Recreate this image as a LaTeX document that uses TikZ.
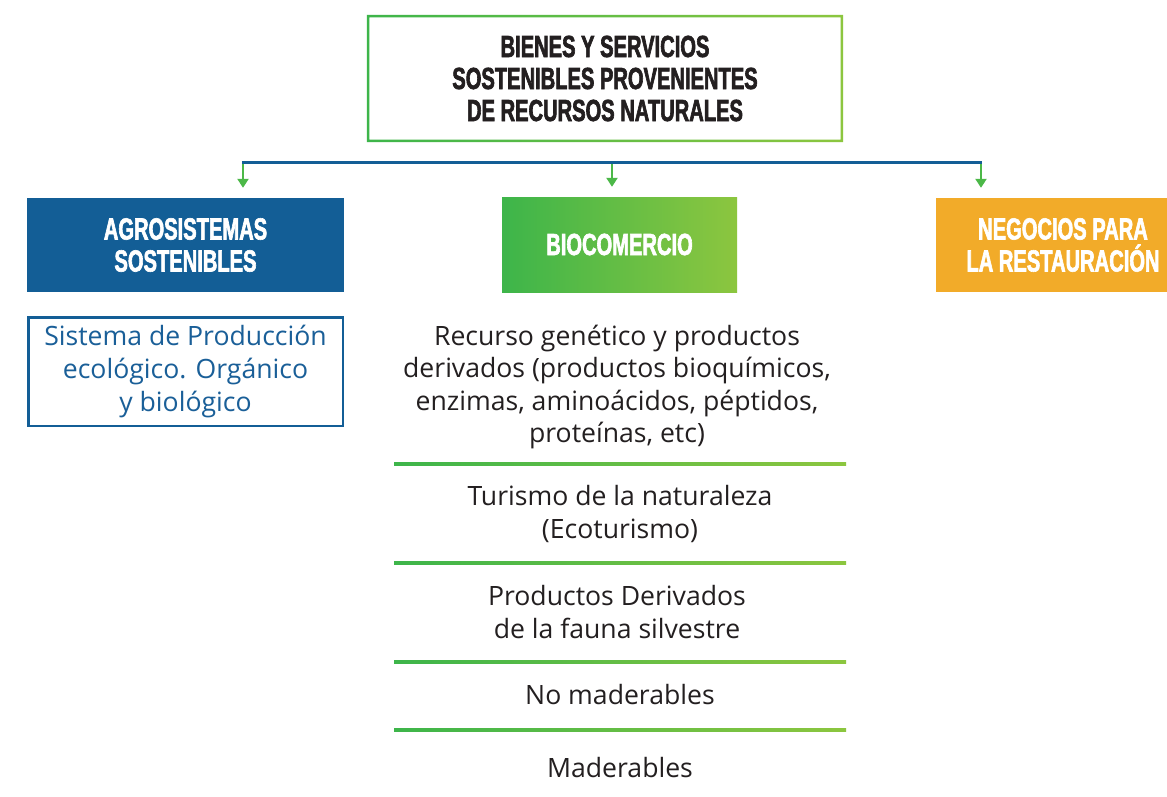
\documentclass[tikz,border=0pt]{standalone}
\usepackage{fontspec}
\setmainfont{Open Sans}
\newfontfamily\condfont[FakeStretch=0.66, FakeBold=2]{Liberation Sans Bold}
\usetikzlibrary{arrows.meta}
\definecolor{gA}{RGB}{61,181,74}
\definecolor{gB}{RGB}{140,198,63}
\definecolor{gM}{RGB}{76,184,72}
\definecolor{bluebox}{RGB}{19,94,150}
\definecolor{bluetxt}{RGB}{26,95,152}
\definecolor{orangebox}{RGB}{242,171,41}
\definecolor{darktxt}{RGB}{35,31,32}
\tikzset{
  headfont/.style={font=\condfont\fontsize{30.5}{32}\selectfont},
  bodyfont/.style={font=\fontsize{26.6}{32.6}\selectfont},
  titlebox/.style={headfont, text=darktxt, align=center, minimum width=476pt, minimum height=127pt, inner sep=0pt},
  catbox/.style={headfont, text=white, align=center, minimum height=94pt, inner sep=0pt},
  itemtext/.style={bodyfont, text=darktxt, align=center, inner sep=0pt},
  subbox/.style={bodyfont, text=bluetxt, align=center, draw=bluebox, line width=2.5pt, minimum width=314.5pt, minimum height=108.5pt, inner sep=0pt},
  greenarrow/.style={draw=gM, line width=2.5pt, -{Triangle[width=11pt,length=9pt]}, shorten >=10pt},
  bluebar/.style={draw=bluebox, line width=3pt},
  sepline/.style={left color=gA, right color=gB}
}
\begin{document}
\begin{tikzpicture}[x=1pt,y=-1pt]
\useasboundingbox (0,0) rectangle (1167,796);
\clip (0,0) rectangle (1167,796);
\fill[white] (0,0) rectangle (1167,796);

% top title box
\node[titlebox] (top) at (605,78.5) {BIENES Y SERVICIOS\\SOSTENIBLES PROVENIENTES\\DE RECURSOS NATURALES};
\shade[left color=gA, right color=gB, even odd rule]
  (top.north west) rectangle (top.south east)
  ([xshift=2.5pt,yshift=-2.5pt]top.north west) rectangle ([xshift=-2.5pt,yshift=2.5pt]top.south east);

% category boxes
\node[catbox, fill=bluebox, minimum width=317pt] (agro) at (185.5,245) {AGROSISTEMAS\\SOSTENIBLES};
\node[catbox, left color=gA, right color=gB, minimum width=235pt, minimum height=95pt] (bio) at (619.5,244.5) {BIOCOMERCIO};
\node[catbox, fill=orangebox, minimum width=254pt] (neg) at (1063,245) {NEGOCIOS PARA\\LA RESTAURACIÓN};

% connector bar and arrows
\coordinate (b1) at (243,162);
\coordinate (b2) at (612,162);
\coordinate (b3) at (981,162);
\draw[greenarrow] (b1) -- (b1 |- agro.north);
\draw[greenarrow] (b2) -- (b2 |- bio.north);
\draw[greenarrow] (b3) -- (b3 |- neg.north);
\draw[bluebar] ([xshift=-1.25pt]b1) -- ([xshift=1.25pt]b3);

% agro sub box
\node[subbox] (agrosub) at (185.5,371.5) {Sistema de Producción\\ecológico. Orgánico\\y biológico};

% biocomercio list
\node[itemtext] (i1) at (617,387) {Recurso genético y productos\\derivados (productos bioquímicos,\\enzimas, aminoácidos, péptidos,\\proteínas, etc)};
\node[itemtext] (i2) at (620,514) {Turismo de la naturaleza\\(Ecoturismo)};
\node[itemtext] (i3) at (617,612) {Productos Derivados\\de la fauna silvestre};
\node[itemtext] (i4) at (620,695) {No maderables};
\node[itemtext] (i5) at (620,768) {Maderables};

\shade[sepline] (394,462.5) rectangle (846,465.5);
\shade[sepline] (394,561.5) rectangle (846,564.5);
\shade[sepline] (394,660.5) rectangle (846,663.5);
\shade[sepline] (394,728.5) rectangle (846,731.5);
\end{tikzpicture}
\end{document}
